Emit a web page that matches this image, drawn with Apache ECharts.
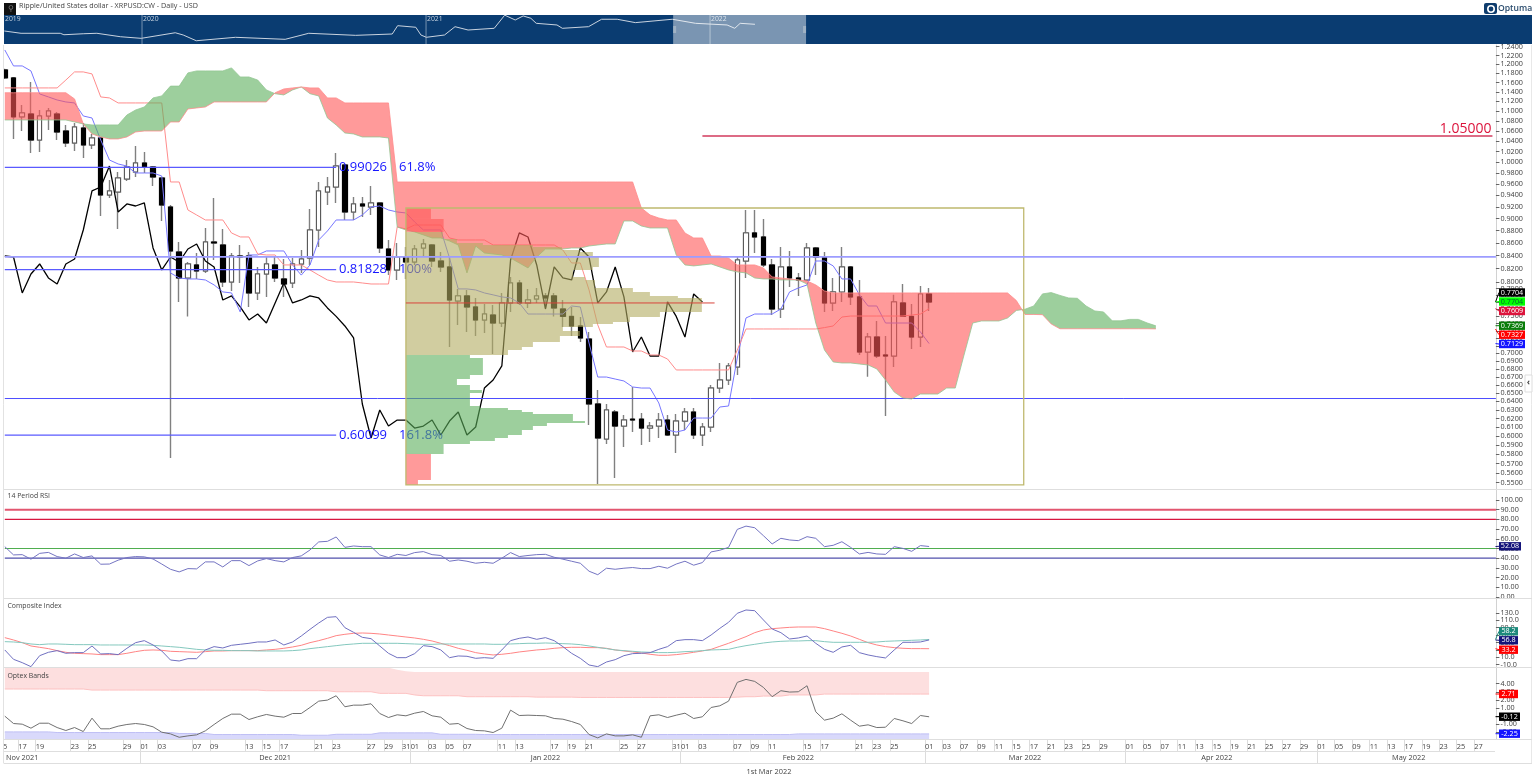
<!DOCTYPE html>
<html><head><meta charset="utf-8">
<style>html,body{margin:0;padding:0;background:#fff}#c{width:1536px;height:783px}</style>
<script src="https://cdn.jsdelivr.net/npm/echarts@6/dist/echarts.min.js"></script>
</head><body><div id="c"></div>
<script>
// ---------- data ----------
const novDays=[15,16,17,18,19,20,21,22,23,24,25,26,27,28,29,30];
const decDays=[1,2,3,4,5,6,7,8,9,10,11,12,13,14,15,16,17,18,19,20,21,22,23,24,25,26,27,28,29,30,31];
const janDays=decDays;
const febDays=[1,2,3,4,5,6,7,8,9,10,11,12,13,14,15,16,17,18,19,20,21,22,23,24,25,26,27,28];
const marDays=[1,2,3,4,7,8,9,10,11,14,15,16,17,18,21,22,23,24,25,28,29,30,31];
const aprDays=[1,4,5,6,7,8,11,12,13,14,15,18,19,20,21,22,25,26,27,28,29,30];
const mayDays=[1,4,5,6,9,10,11,12,13,16,17,18,19,20,23,24,25,26,27,30,31];
const pad=d=>(d<10?'0':'')+d;
const categories=[].concat(
  novDays.map(d=>'Nov '+pad(d)),decDays.map(d=>'Dec '+pad(d)),janDays.map(d=>'Jan '+pad(d)),
  febDays.map(d=>'Feb '+pad(d)),marDays.map(d=>'Mar '+pad(d)),aprDays.map(d=>'Apr '+pad(d)),mayDays.map(d=>'May '+pad(d)));
const dayLabelIdx=[0,2,4,8,10,14,16,18,22,24,28,30,32,36,38,42,44,46,47,49,51,53,57,59,63,65,67,71,73,77,78,80,84,86,88,92,94,98,100,102,106,108,110,112,114,116,118,120,122,124,126,129,131,133,135,137,139,141,143,145,147,149,151,153,155,157,159,161,163,165,167,169];
const monthStartIdx=[16,47,78,106,129,151];
const monthLabelIdx={2:'Nov 2021',31:'Dec 2021',62:'Jan 2022',91:'Feb 2022',117:'Mar 2022',139:'Apr 2022',161:'May 2022'};

// [open, close, low, high]
const candles=[
[1.1875,1.170,1.1675,1.190],[1.170,1.088,1.044,1.172],[1.088,1.096,1.0597,1.1123],[1.0938,1.042,1.017,1.161],[1.042,1.0898,1.019,1.102],
[1.0898,1.100,1.0617,1.106],[1.0938,1.0577,1.042,1.098],[1.0597,1.0363,1.0286,1.0716],[1.0363,1.0676,1.0209,1.0756],[1.0656,1.0325,1.0077,1.0756],
[1.0325,1.046,1.0248,1.0539],[1.046,.9405,.9044,1.048],[.9405,.9476,.9352,.9672],[.9458,.9708,.8828,.9818],[.969,.9909,.9654,1.0039],
[.9818,.9983,.9726,1.0305],[.9983,.9909,.9799,1.019],[.9909,.9726,.9565,.9927],[.9708,.9231,.896,.9726],[.9197,.8473,.576,.9231],
[.8457,.8057,.7705,.8616],[.8057,.827,.75,.8301],[.8255,.8163,.8042,.8441],[.8163,.8616,.8133,.8844],[.8616,.86,.8332,.9352],
[.8568,.7997,.7923,.8828],[.7997,.8394,.7864,.8441],[.8394,.8378,.7982,.8568],[.8394,.7835,.7633,.8457],[.7835,.8117,.7733,.8224],
[.8117,.827,.7777,.8378],[.8255,.8057,.7997,.8378],[.8042,.7967,.7777,.8347],[.7982,.827,.7908,.8362],[.827,.8347,.8133,.8488],
[.8362,.8811,.8255,.9163],[.8811,.9476,.8536,.9636],[.9458,.9546,.9231,.9726],[.9546,.9927,.9266,1.0171],[.9946,.9112,.8977,.9946],
[.9112,.9249,.8977,.937],[.9249,.9214,.9028,.937],[.9197,.9266,.9061,.9565],[.9266,.852,.8441,.9266],[.8504,.8178,.81,.8648],
[.8178,.8378,.8027,.86],[.8378,.8301,.8042,.8536],[.8301,.8504,.8255,.8568],[.852,.8584,.8378,.8664],[.8568,.8316,.8224,.8584],
[.8316,.8224,.8148,.8457],[.8224,.7733,.7084,.8378],[.7719,.7792,.7382,.7894],[.7792,.7633,.7285,.7879],[.7633,.745,.723,.7762],
[.745,.7533,.7271,.7676],[.7519,.7408,.6992,.7661],[.7408,.769,.7353,.7835],[.769,.7982,.7562,.8072],[.7982,.769,.7661,.8027],
[.769,.7733,.7619,.7894],[.7748,.7792,.769,.7908],[.7792,.7762,.7619,.7835],[.7792,.7619,.75,.7835],[.7604,.75,.7353,.7733],
[.75,.7367,.723,.7633],[.7367,.7204,.715,.7491],[.719,.637,.6126,.7285],[.637,.5978,.5487,.6538],[.5967,.6299,.5911,.637],
[.6275,.6113,.5549,.6299],[.6113,.6182,.5879,.624],[.6193,.6182,.6045,.6575],[.6193,.609,.5901,.6263],[.609,.6113,.5934,.6159],
[.6113,.6182,.5978,.6263],[.6182,.6012,.6,.624],[.6012,.617,.5814,.6252],[.617,.6275,.6068,.6322],[.6275,.6012,.5967,.6322],
[.6012,.6102,.589,.6148],[.6102,.6562,.6045,.6599],[.6562,.6661,.6501,.6876],[.6661,.6838,.6599,.6876],[.6825,.8332,.6723,.8378],
[.8316,.8763,.8057,.9146],[.8763,.8697,.8441,.9146],[.8697,.8255,.8224,.8995],[.8255,.7604,.7519,.8347],[.7604,.8224,.7477,.8536],
[.8224,.8057,.7923,.8473],[.8057,.8027,.7792,.8133],[.8027,.852,.8012,.86],[.852,.8378,.81,.8536],[.8378,.769,.7562,.8457],
[.769,.785,.7576,.8057],[.785,.8224,.7705,.8536],[.8224,.7777,.7661,.824],[.7777,.7018,.6979,.8027],[.7018,.7217,.6701,.7271],
[.7217,.6966,.694,.7436],[.6979,.6966,.6229,.723],[.6966,.7705,.6825,.7807],[.769,.75,.7491,.7967],[.75,.7217,.7058,.7676],
[.7217,.7821,.7084,.7938],[.7821,.7704,.7576,.7908]];

const tenkan=[1.2325,1.1964,1.1964,1.1853,1.1355,1.1292,1.1228,1.1187,1.1166,1.0898,1.0857,1.0421,1.0039,.9965,.9927,.9799,.9799,.9799,.9744,.8133,.8057,.8042,.8042,.8027,.7953,.785,.7835,.7562,.841,.841,.8473,.8473,.8473,.8255,.81,.8255,.8648,.8795,.8977,.8977,.8977,.9061,.9197,.9214,.9146,.9112,.9095,.8944,.8811,.8811,.8811,.8362,.7894,.7894,.7879,.7835,.7807,.7777,.7762,.769,.7533,.7533,.7533,.7533,.7533,.7647,.7633,.7137,.6698,.6698,.6673,.6649,.6575,.6562,.6562,.6382,.6068,.6045,.6068,.6205,.6205,.6205,.6334,.6346,.694,.7478,.7533,.7533,.7533,.7604,.785,.7908,.7953,.8316,.8316,.824,.8042,.8042,.7807,.7647,.7647,.7408,.7408,.7408,.7408,.7285,.7129];
const kijun=[1.1483,1.1483,1.1483,1.1483,1.1483,1.1483,1.1483,1.1653,1.1831,1.1831,1.1787,1.1292,1.1271,1.1166,1.1166,1.1166,1.1166,1.1166,1.1166,.9636,.9636,.9146,.9061,.8977,.8977,.8977,.8762,.8697,.8697,.8425,.841,.841,.8255,.8255,.8255,.8178,.81,.8027,.7997,.7997,.7997,.7982,.7967,.7967,.7967,.886,.8828,.8893,.8893,.8893,.8893,.8681,.8648,.8648,.8648,.8648,.8568,.8568,.8568,.8568,.8568,.8568,.8568,.8568,.8488,.8285,.8285,.7879,.7382,.7084,.7084,.7084,.7031,.7031,.6979,.6979,.6927,.6787,.6787,.6787,.6787,.6787,.6787,.6787,.7044,.7326,.7326,.7326,.7326,.7326,.7326,.7326,.7326,.7326,.7345,.7367,.7491,.7505,.7505,.7505,.7505,.7505,.7505,.7505,.7519,.7533,.7609];
const chikou=candles.slice(26).map(c=>c[1]); // lagging span: the closes, 26 bars back
const spanA=[1.0817,1.0817,1.0817,1.0817,1.0817,1.0817,1.0817,1.0817,1.0777,1.0737,1.0717,1.0717,1.0717,1.0717,1.0918,1.102,1.1082,1.1271,1.1313,1.1522,1.1522,1.1809,1.1853,1.1853,1.1853,1.1853,1.192,1.172,1.172,1.1653,1.144,1.136,1.1334,1.144,1.1503,1.136,1.1313,1.0857,1.0717,1.0558,1.0539,1.048,1.048,1.048,1.046,.886,.8811,.8779,.873,.8681,.8681,.8632,.8568,.8133,.8552,.8441,.8425,.841,.8362,.8285,.8209,.8378,.8504,.8504,.8504,.852,.852,.8552,.8568,.8584,.8584,.896,.896,.8877,.8844,.8844,.8844,.841,.8255,.824,.8255,.827,.8224,.8178,.8148,.8133,.8057,.8042,.8042,.8027,.8027,.8027,.7967,.7408,.7044,.6889,.6876,.6876,.6863,.685,.68,.6661,.6513,.6441,.6429,.6489,.6489,.6489,.6562,.6562,.6978,.7408,.7436,.7436,.7436,.7478,.7583,.7601,.7647,.7821,.784,.7799,.7762,.7757,.7647,.7576,.7562,.7438,.7438,.7458,.7458,.7409,.7369];
const spanB=[1.138,1.138,1.138,1.138,1.138,1.138,1.138,1.138,1.125,1.0737,1.0539,1.048,1.0441,1.0441,1.048,1.0578,1.0597,1.0597,1.0597,1.0777,1.0777,1.1041,1.1062,1.1082,1.1187,1.1187,1.1187,1.1187,1.1187,1.1187,1.1187,1.138,1.1461,1.1483,1.1503,1.1483,1.1483,1.1271,1.1271,1.1166,1.1166,1.1166,1.1166,1.1166,1.1166,.9636,.9636,.9636,.9636,.9636,.9636,.9636,.9636,.9636,.9636,.9636,.9636,.9636,.9636,.9636,.9636,.9636,.9636,.9636,.9636,.9636,.9636,.9636,.9636,.9636,.9636,.9636,.9636,.918,.9061,.901,.8977,.8977,.8762,.8681,.8681,.8394,.8394,.8362,.8255,.8255,.8255,.8209,.8072,.8057,.8042,.8027,.8012,.7953,.7864,.7835,.7835,.7835,.7835,.7835,.7835,.7835,.7835,.7835,.7835,.7835,.7835,.7835,.7835,.7835,.7835,.7835,.7835,.7835,.7835,.7835,.7725,.7527,.7527,.7524,.7395,.7329,.7329,.7329,.7329,.7329,.7329,.7329,.7329,.7329,.7329,.7329,.7327];

// volume-by-price profile: price edges of the rows, row volume (in bar widths), row colour group
const profileEdges=[.918,.8994,.8779,.8664,.86,.8568,.8536,.8488,.8457,.8378,.8224,.8178,.8072,.8027,.7908,.785,.7792,.7762,.7562,.7491,.7422,.7395,.7353,.7299,.7231,.715,.7084,.7044,.6979,.694,.6724,.6673,.6599,.6538,.6501,.6346,.6322,.6299,.6275,.6252,.6229,.617,.6148,.6113,.6068,.6012,.5978,.5945,.5912,.5803,.5528,.5477];
const profileVolumes=[2.87,4.32,4.24,5.85,8.83,14.56,17.89,19.95,21.44,22.13,21.44,19.15,20.53,21.67,26.03,27.98,31.19,33.94,29.13,25.69,23.74,21.44,18,19.95,17.66,14.56,13.3,11.7,7.34,8.83,7.34,5.85,7.34,8.72,7.34,8.49,11.7,13.3,14.56,19.15,19.15,20.53,16.17,14.56,13.3,11.7,10.2,7.34,4.32,2.87,1.38];
const profileGroups=['r','r','o','o','o','o','o','o','o','o','o','o','o','o','o','o','o','o','o','o','o','o','o','o','o','o','o','o','g','g','g','g','g','g','g','g','g','g','g','g','g','g','g','g','g','g','g','g','g','r','r'];
const profileStartBar=46, profileBoxEndBar=116.85, profileBoxTop=.918, profileBoxBottom=.5477;
const pocPrice=.769, pocEndBar=81.4;
const fibPrices=[.99026,.81828,.60099], fibNames=['0.99026','0.81828','0.60099'], fibPcts=['61.8%','100%','161.8%'];
const fullLinePrices=[.8381,.6435];
const targetPrice=1.05, targetLabel='1.05000', targetStartBar=80;

const mainTicks=[1.24,1.22,1.2,1.18,1.16,1.14,1.12,1.1,1.08,1.06,1.04,1.02,1,.98,.96,.94,.92,.9,.88,.86,.84,.82,.8,.79,.78,.77,.76,.75,.74,.73,.72,.71,.7,.69,.68,.67,.66,.65,.64,.63,.62,.61,.6,.59,.58,.57,.56,.55];
const rsiTicks=[100,90,80,70,60,50,40,30,20,10,0];
const compTicks=[130,110,90,70,50,30,10,-10];
const optexTicks=[4,3,2,1,0,-1,-2];

const rsi=[51.9,43.4,43.7,39,45,46,41.7,40,44.4,40.7,42.4,33.8,34,38,40.7,41.7,41.4,39.2,34,28.6,25.9,29.3,29,36.2,36.2,31,37.5,37.5,32.4,37.2,39.6,37.5,36.2,40.7,42.4,48.5,56.8,57.4,61.9,51.2,52.6,51.9,51.9,43.4,40.7,44,42.8,45.8,46.8,43.7,42.8,36.9,38.2,36.9,34.8,35.8,34.8,40,45.8,41.7,42.8,43.7,44,41,39,36.9,34.8,26.6,23,29.7,28.6,29.7,30.4,29.3,29.3,31.7,29.7,34,36.9,32.8,35.5,46.5,48.2,51.2,69.7,73.1,71.4,63.2,54.7,60.5,58.8,58.1,62.2,60.5,51.9,53.3,57,51.2,44.4,46,44.4,44,51.9,50.1,47.1,53,52.08];
const rsiLevels=[[90,'#e2566f',2],[80,'#d7173f',1.2],[50,'#4fae4f',1.2],[40,'#5050ac',1.2]];

const composite=[29.8,4.5,-4.5,-15.3,14.4,23.5,28,20.8,22.6,22.6,40.6,19,19.9,17.2,34.3,49.6,55,43.3,27.1,2.7,0,6.3,6.3,29.8,38.8,35.2,42.4,45.1,47.8,51.4,51.4,56.8,43.3,51.4,67.6,85.6,102.7,118,119.8,90.1,77.5,64,60.4,40.6,20.8,9,9,19.9,41.5,38.8,29.8,9,13.6,12.7,7.2,9,7.2,29.8,55,61.3,64.9,58.6,63.1,55,38.8,20.8,7.2,-10.8,-15.3,-2.7,3.6,14.4,19.9,20.8,22.6,31.5,38.8,55,57.7,57.7,55,70.3,88.3,104.6,128.9,137.9,136,110.9,86.5,76.6,59.5,62.2,67.6,47.8,31.5,23.5,37.9,42.4,22.6,16.3,11.8,8.2,29.8,50.5,50.5,51.4,56.8];
const compositeSlow=[63.1,56.8,49.6,40.6,37,33.4,28,23.5,20.8,19.9,19,17.2,17.2,17.2,20.8,25.3,28.9,29.8,28.9,26.2,25.3,24.4,23.5,25.3,27.1,27.1,28,28,28,28,29.8,31.5,34.3,37.9,42.4,49.6,55,61.3,68.5,72.1,74.8,75.7,74.8,73,70.3,67.6,64.9,62.2,58.6,54.1,47.8,41.5,34.3,28.9,22.6,19,16.3,18.1,20.8,24.4,27.1,29.8,31.5,34.3,36.1,37,37,36.1,36.1,34.3,29.8,27.1,24.4,21.7,18.1,15.4,15.4,17.2,19.9,23.5,27.1,31.5,39.7,47.8,56.8,65.8,76.6,83.8,87.4,89.2,91,91.9,91.9,91.9,87.4,81.1,74.8,67.6,58.6,49.6,43.3,38.8,36.1,34.3,33.4,33.4,33.2];
const compositeLong=[52.3,51.4,49.6,46,44.2,46,46,45.1,44.2,44.2,44.2,43.3,43.3,43.3,43.3,43.3,43.3,42.4,40.6,38.8,37,34.3,31.5,29.8,28.9,28.9,28,28,28,27.1,27.1,27.1,27.1,28,29.8,33.4,36.1,38.8,41.5,44.2,46,47.8,47.8,47.8,47.8,47.8,46.9,46,45.1,45.1,46,46,46,46,46,46,45.1,45.1,46,46.9,47.8,47.8,48.7,47.8,46.9,46,44.2,40.6,37,33.4,29.8,28,26.2,24.4,23.5,22.6,22.6,23.5,25.3,26.2,28,29.8,30.6,31.5,37,41.5,45.1,48.7,51.4,53.2,54.1,54.1,55,55,52.3,50.5,50.5,50.5,50.5,50.5,51.4,53.2,54.1,55,55.9,56.8,58.2];

const optex=[-.04,-.96,-1.04,-1.54,-.92,-.92,-1.46,-1.83,-1.46,-1.96,-.29,-1.62,-1.62,-1.29,-1.08,-.96,-1.08,-1.37,-2.04,-2.25,-2.67,-2.5,-2.37,-1.87,-1.08,-.33,.21,.21,-.46,-.12,.17,-.04,-.17,.29,.29,1.04,1.83,1.96,2.5,1.13,1.33,1.33,1.5,.29,-.21,.13,0,.33,.54,0,-.17,-1.04,-.96,-1.58,-1.83,-1.87,-2.08,-1.54,.71,.04,.08,.04,0,-.33,-.42,-.71,-1.08,-2.33,-2.75,-2.25,-2.5,-2.5,-2.37,-2.67,0,.13,-.21,.08,.33,-.33,-.12,1.04,1.25,1.83,4.17,4.54,4.29,3.54,2.38,3.13,2.96,3,3.75,.5,-.54,-.29,.25,-.54,-1.29,-1.12,-1.46,-1.42,-.33,-.62,-.96,.04,-.12];
const optexUpperHigh=[6,6,6,6,6,6,6,6,6,6,6,6,6,6,6,6,6,6,6,6,6,6,6,6,6,6,6,6,6,6,6,6,6,6,6,6,6,6,6,6,6,6,6,6,6,5.75,5.55,5.46,5.46,5.46,5.46,5.46,5.46,5.46,5.46,5.46,5.46,5.46,5.46,5.46,5.46,5.46,5.46,5.46,5.46,5.46,5.46,5.46,5.46,5.46,5.46,5.46,5.46,5.46,5.46,5.46,5.46,5.46,5.46,5.46,5.46,5.46,5.46,5.46,5.46,5.46,5.46,5.46,5.46,5.46,5.46,5.46,5.46,5.46,5.46,5.46,5.46,5.46,5.46,5.46,5.46,5.46,5.46,5.46,5.46,5.46,5.46];
const optexUpperLow=[3.34,3.34,3.34,3.34,3.34,3.34,3.34,3.34,3.34,3.34,3.21,3.21,3.21,3.21,3.21,3.21,3.21,3.21,3.21,3.21,3.21,3.21,3.21,3.21,3.21,3.21,3.21,3.21,3.21,3.21,3.13,3.13,3.13,3.13,3.13,3.13,3.13,3.13,3,3,3,3,3,2.8,2.8,2.8,2.8,2.6,2.5,2.5,2.5,2.5,2.5,2.38,2.38,2.38,2.38,2.38,2.38,2.38,2.38,2.33,2.33,2.33,2.33,2.33,2.29,2.29,2.29,2.29,2.29,2.29,2.29,2.29,2.29,2.29,2.29,2.29,2.29,2.29,2.29,2.29,2.29,2.29,2.33,2.38,2.38,2.46,2.46,2.46,2.6,2.6,2.6,2.6,2.71,2.71,2.71,2.71,2.71,2.71,2.71,2.71,2.71,2.71,2.71,2.71,2.71];
const optexLowerHigh=[-2,-2,-2,-2,-2,-2,-2.08,-2.08,-2.08,-2.08,-2.08,-2.08,-2.08,-2.08,-2.08,-2.08,-2.08,-2.08,-2.08,-2.08,-2.2,-2.2,-2.2,-2.2,-2.33,-2.33,-2.33,-2.33,-2.33,-2.33,-2.33,-2.33,-2.33,-2.33,-2.42,-2.42,-2.42,-2.42,-2.3,-2.3,-2.3,-2.3,-2.3,-2.12,-2.12,-2.12,-2.12,-2.12,-2.12,-2.12,-2.3,-2.3,-2.3,-2.3,-2.3,-2.33,-2.33,-2.33,-2.33,-2.33,-2.33,-2.33,-2.33,-2.33,-2.33,-2.33,-2.33,-2.33,-2.33,-2.33,-2.33,-2.33,-2.33,-2.33,-2.33,-2.33,-2.33,-2.33,-2.33,-2.33,-2.33,-2.33,-2.33,-2.33,-2.33,-2.33,-2.33,-2.33,-2.33,-2.33,-2.33,-2.25,-2.25,-2.25,-2.25,-2.25,-2.25,-2.25,-2.25,-2.25,-2.25,-2.25,-2.25,-2.25,-2.25,-2.25,-2.25];
const optexFloor=-2.9;

// overview strip: [decimal year, USD]
const navLine=[[2019.515,.381],[2019.574,.303],[2019.712,.303],[2019.725,.262],[2019.795,.29],[2019.841,.303],[2019.924,.215],[2019.997,.183],[2020.117,.32],[2020.145,.255],[2020.191,.144],[2020.329,.203],[2020.504,.166],[2020.587,.303],[2020.752,.247],[2020.881,.282],[2020.9,.647],[2020.964,.552],[2020.982,.255],[2021.001,.203],[2021.065,.255],[2021.102,.585],[2021.148,.42],[2021.24,.498],[2021.277,1.85],[2021.314,1.143],[2021.342,1.71],[2021.369,1.356],[2021.388,.82],[2021.461,.694],[2021.48,.498],[2021.572,.585],[2021.618,1.23],[2021.673,1.23],[2021.737,.877],[2021.867,1.23],[2021.949,.82],[2022.06,.694],[2022.087,.498],[2022.106,.82],[2022.158,.744]];
const navYears=[2020,2021,2022], navFirstLabel='2019', navSelection=[2021.87,2022.338];

// ---------- helpers ----------
const FONT='"Open Sans",sans-serif';
const barCount=categories.length;
const bodies=candles.map(c=>[c[0],c[1],Math.min(c[0],c[1]),Math.max(c[0],c[1])]);
const bars=arr=>arr.map((v,i)=>[i,v]);
const ONE=[[0,1]];

function yAxisOf(grid,ticks,min,max,dec,type){
  return {type:type||'value',gridIndex:grid,position:'right',min,max,scale:true,
    axisLine:{show:true,onZero:false,lineStyle:{color:'#d2d2d2',width:1}},
    axisTick:{show:true,length:3.5,customValues:ticks,lineStyle:{color:'#666'}},
    axisLabel:{show:true,margin:4.5,customValues:ticks,showMinLabel:true,showMaxLabel:true,hideOverlap:false,fontSize:7.2,fontFamily:FONT,color:'#3c3c3c',formatter:v=>(+v).toFixed(dec)},
    splitLine:{show:false},minorTick:{show:false},minorSplitLine:{show:false}};
}
function catAxis(grid){
  return {type:'category',gridIndex:grid,data:categories,boundaryGap:false,axisLine:{show:false},axisTick:{show:false},axisLabel:{show:false},splitLine:{show:false}};
}
function lineS(name,x,y,data,color,width,z){
  return {name,type:'line',xAxisIndex:x,yAxisIndex:y,data,showSymbol:false,symbol:'none',silent:true,z:z||3,
    lineStyle:{color,width},clip:true};
}
function hLines(x,y,levels,lastBar){
  return {type:'custom',xAxisIndex:x,yAxisIndex:y,data:[[0,levels[0][0]]],silent:true,z:2,clip:true,
    renderItem:(p,api)=>({type:'group',children:levels.map(l=>{
      const a=api.coord([0,l[0]]),b=api.coord([barCount-1,l[0]]);
      return {type:'line',shape:{x1:a[0],y1:a[1],x2:b[0],y2:b[1]},style:{stroke:l[1],lineWidth:l[2]}};
    })})};
}
function bandS(x,y,high,low,fill,z){
  return {type:'custom',xAxisIndex:x,yAxisIndex:y,data:[[0,high[0]]],silent:true,z:z||1,clip:true,
    renderItem:(p,api)=>{
      const pts=[];
      high.forEach((v,i)=>pts.push(api.coord([i,v])));
      for(let i=low.length-1;i>=0;i--)pts.push(api.coord([i,low[i]]));
      return {type:'polygon',shape:{points:pts},style:{fill}};
    }};
}
const CLOUD_RED='rgba(255,86,86,.6)',CLOUD_GREEN='rgba(92,175,92,.6)',PROFILE_OLIVE='rgba(178,172,97,.6)';

// ---------- option ----------
const tagRows=[
  ['0.7704',292.5,302,26,'#000','#fff'],['0.7704',301.5,302,26,'#00ff00','#063'],['0.7609',311,308.6,26,'#dc143c','#fff'],
  ['0.7369',325.7,325.7,26,'#0a7d0a','#fff'],['0.7327',334.7,329,26,'#ff0000','#fff'],['0.7129',344,343.6,26,'#1414ff','#fff'],
  ['52.08',546.3,546.5,22,'#14147a','#fff'],
  ['58.2',631.3,639.5,19,'#1d8a7c','#fff'],['56.8',640.3,640,19,'#14147a','#fff'],['33.2',649.7,648.7,19,'#ff0000','#fff'],
  ['2.71',694,694,19,'#ff0000','#fff'],['-0.12',716.7,716.7,21,'#000','#fff'],['-2.25',733.7,733.7,21,'#1414ff','#fff']];
const option={
  animation:false,backgroundColor:'#fff',
  grid:[
    {left:4,top:15,width:1528,height:29,show:true,backgroundColor:'#0a3c71',borderWidth:0},
    {left:4.8,top:45,width:1491.12,height:444},
    {left:4.8,top:490,width:1491.12,height:108},
    {left:4.8,top:599,width:1491.12,height:68.5},
    {left:4.8,top:668,width:1491.12,height:71.5},
    {left:.44,top:740,width:1499.84,height:12},
    {left:.44,top:752,width:1499.84,height:11}
  ],
  xAxis:[
    {type:'value',gridIndex:0,min:2019.514,max:2024.894,show:false},
    catAxis(1),
    {type:'value',gridIndex:1,min:0,max:barCount-1,show:false},
    catAxis(2),catAxis(3),catAxis(4),
    {type:'category',gridIndex:5,data:categories,boundaryGap:true,axisLine:{show:false},
      axisTick:{show:true,inside:true,length:12,interval:i=>dayLabelIdx.includes(i),lineStyle:{color:'#dcdcdc'}},
      axisLabel:{show:true,inside:true,margin:2,interval:i=>dayLabelIdx.includes(i),fontSize:7.4,fontFamily:FONT,color:'#444',
        formatter:(v,i)=>i===0?'5':v.slice(4)}},
    {type:'category',gridIndex:6,data:categories,boundaryGap:true,axisLine:{show:false},
      axisTick:{show:true,inside:true,length:11,interval:i=>monthStartIdx.includes(i),lineStyle:{color:'#dcdcdc'}},
      axisLabel:{show:true,inside:true,margin:2,interval:i=>monthLabelIdx[i]!==undefined,fontSize:7.4,fontFamily:FONT,color:'#444',
        formatter:(v,i)=>monthLabelIdx[i]||''}}
  ],
  yAxis:[
    {type:'log',gridIndex:0,min:.104,max:1.88,show:false},
    yAxisOf(1,mainTicks,.5436,1.244,4,'log'),
    yAxisOf(2,rsiTicks,-1,110.3,2),
    yAxisOf(3,compTicks,-17.6,167.6,1),
    yAxisOf(4,optexTicks,-2.95,5.96,2),
    {type:'value',gridIndex:5,show:false},
    {type:'value',gridIndex:6,show:false}
  ],
  series:[
    // overview strip
    {name:'Overview',type:'line',xAxisIndex:0,yAxisIndex:0,data:navLine,showSymbol:false,symbol:'none',z:3,silent:true,lineStyle:{color:'#c9d3df',width:1}},
    {type:'custom',xAxisIndex:0,yAxisIndex:0,data:ONE,silent:true,z:4,clip:true,
      renderItem:(p,api)=>{
        const g=p.coordSys,kids=[];
        navYears.forEach(y=>{const x=api.coord([y,1])[0];
          kids.push({type:'line',shape:{x1:x,y1:g.y,x2:x,y2:g.y+g.height},style:{stroke:'rgba(190,205,220,.6)',lineWidth:1}});
          kids.push({type:'text',style:{text:String(y),x:x+1,y:g.y+4,verticalAlign:'middle',fill:'#c6d2df',font:'6.8px '+FONT}});
        });
        kids.push({type:'text',style:{text:navFirstLabel,x:g.x+1,y:g.y+4,verticalAlign:'middle',fill:'#c6d2df',font:'6.8px '+FONT}});
        const a=api.coord([navSelection[0],1])[0],b=api.coord([navSelection[1],1])[0];
        kids.push({type:'rect',shape:{x:a,y:g.y,width:b-a,height:g.height},style:{fill:'rgba(255,255,255,.46)'}});
        [a,b-3].forEach(x=>kids.push({type:'rect',shape:{x:x,y:g.y+11,width:3,height:7},style:{fill:'rgba(170,185,200,.8)'}}));
        return {type:'group',children:kids};
      }},
    // candles: wick pass, then body pass
    {name:'Wicks',type:'candlestick',xAxisIndex:1,yAxisIndex:1,data:candles,barWidth:5,z:2,silent:true,clip:true,
      itemStyle:{color:'#fff',color0:'#000',borderColor:'#808080',borderColor0:'#808080',borderWidth:1.4}},
    {name:'XRPUSD',type:'candlestick',xAxisIndex:1,yAxisIndex:1,data:bodies,barWidth:5,z:2,silent:true,clip:true,
      itemStyle:{color:'#fff',color0:'#000',borderColor:'#5a5a5a',borderColor0:'#000',borderWidth:1}},
    lineS('Lagging',1,1,bars(chikou),'#000',1.3,3),
    lineS('Tenkan',1,1,bars(tenkan),'#7676ff',1,3),
    lineS('Kijun',1,1,bars(kijun),'#ff8c8c',1,3),
    // cloud
    {type:'custom',xAxisIndex:2,yAxisIndex:1,data:ONE,silent:true,z:5,clip:true,
      renderItem:(p,api)=>{
        const A=spanA.map((v,i)=>api.coord([i,v])),B=spanB.map((v,i)=>api.coord([i,v])),kids=[];
        let upper=[],lower=[],green=spanA[0]>spanB[0];
        const flush=()=>{kids.push({type:'polygon',shape:{points:upper.concat(lower.slice().reverse())},
          style:{fill:green?CLOUD_GREEN:CLOUD_RED}});};
        for(let i=0;i<A.length;i++){
          const g=spanA[i]>spanB[i]||(spanA[i]===spanB[i]&&green);
          if(i>0&&g!==green){
            const d0=A[i-1][1]-B[i-1][1],d1=A[i][1]-B[i][1],t=d0/(d0-d1);
            const cx=A[i-1][0]+t*(A[i][0]-A[i-1][0]),cy=A[i-1][1]+t*(A[i][1]-A[i-1][1]);
            upper.push([cx,cy]);lower.push([cx,cy]);flush();
            upper=[[cx,cy]];lower=[[cx,cy]];green=g;
          }
          upper.push(A[i]);lower.push(B[i]);
        }
        flush();
        return {type:'group',children:kids};
      }},
    lineS('Span A',1,1,bars(spanA),'#93c793',.8,5),
    lineS('Span B',1,1,bars(spanB),'#ff8c8c',.8,5),
    // volume-by-price box
    {type:'custom',xAxisIndex:2,yAxisIndex:1,data:ONE,silent:true,z:6,clip:true,
      renderItem:(p,api)=>{
        const kids=[],col={r:CLOUD_RED,o:PROFILE_OLIVE,g:CLOUD_GREEN};
        profileVolumes.forEach((v,i)=>{
          const t=api.coord([profileStartBar,profileEdges[i]]),b=api.coord([profileStartBar+v,profileEdges[i+1]]);
          kids.push({type:'rect',shape:{x:t[0],y:t[1],width:b[0]-t[0],height:b[1]-t[1]},style:{fill:col[profileGroups[i]]}});
        });
        const a=api.coord([profileStartBar,profileBoxTop]),c=api.coord([profileBoxEndBar,profileBoxBottom]);
        kids.push({type:'rect',shape:{x:a[0],y:a[1],width:c[0]-a[0],height:c[1]-a[1]},style:{fill:'none',stroke:'#bfb96f',lineWidth:1.3}});
        const m=api.coord([profileStartBar,pocPrice]),n=api.coord([pocEndBar,pocPrice]);
        kids.push({type:'line',shape:{x1:m[0],y1:m[1],x2:n[0],y2:n[1]},style:{stroke:'#d8443c',lineWidth:1}});
        return {type:'group',children:kids};
      }},
    // fibonacci levels
    {type:'custom',xAxisIndex:2,yAxisIndex:1,data:ONE,silent:true,z:4,clip:true,
      renderItem:(p,api)=>{
        const kids=[];
        fibPrices.forEach((v,i)=>{
          const a=api.coord([0,v]),b=api.coord([38,v]);
          kids.push({type:'line',shape:{x1:a[0],y1:a[1],x2:b[0],y2:b[1]},style:{stroke:'#5a5aff',lineWidth:1.1}});
          kids.push({type:'text',style:{text:fibNames[i],x:339,y:b[1],verticalAlign:'middle',fill:'#1616ff',font:'13px '+FONT}});
          kids.push({type:'text',style:{text:fibPcts[i],x:399,y:b[1],verticalAlign:'middle',fill:'#1616ff',font:'13px '+FONT}});
        });
        const l=api.coord([0,fullLinePrices[1]]),r=api.coord([barCount-1,fullLinePrices[1]]);
        kids.push({type:'line',shape:{x1:l[0],y1:l[1],x2:r[0],y2:r[1]},style:{stroke:'#4d4dff',lineWidth:1}});
        return {type:'group',children:kids};
      }},
    {type:'custom',xAxisIndex:2,yAxisIndex:1,data:ONE,silent:true,z:8,clip:true,
      renderItem:(p,api)=>{
        const l=api.coord([0,fullLinePrices[0]]),r=api.coord([barCount-1,fullLinePrices[0]]);
        const a=api.coord([targetStartBar,targetPrice]),b=api.coord([170.6,targetPrice]);
        return {type:'group',children:[
          {type:'line',shape:{x1:l[0],y1:l[1],x2:r[0],y2:r[1]},style:{stroke:'#9c9cff',lineWidth:1.8}},
          {type:'line',shape:{x1:a[0],y1:a[1],x2:b[0],y2:b[1]},style:{stroke:'#d23a5c',lineWidth:1.4}},
          {type:'text',style:{text:targetLabel,x:b[0]-1,y:b[1],align:'right',verticalAlign:'bottom',fill:'#dc143c',font:'14px '+FONT}}
        ]};
      }},
    // RSI
    hLines(3,2,rsiLevels),
    lineS('RSI',3,2,bars(rsi),'#7474c2',1,3),
    // Composite
    lineS('Composite slow',4,3,bars(compositeSlow),'#ff8484',1,3),
    lineS('Composite long',4,3,bars(compositeLong),'#84c8be',1,3),
    lineS('Composite',4,3,bars(composite),'#7070c0',1,4),
    // Optex
    bandS(5,4,optexUpperHigh,optexUpperLow,'#fddfdf',1),
    bandS(5,4,optexLowerHigh,optexLowerHigh.map(()=>optexFloor),'#d9d9fb',1),
    lineS('Upper band',5,4,bars(optexUpperLow),'#fdc2c2',1,2),
    lineS('Lower band',5,4,bars(optexLowerHigh),'#bfbff5',1,2),
    lineS('Optex',5,4,bars(optex),'#707070',1,3)
  ],
  graphic:{elements:[
    // chrome: header, separators, covers
    {type:'rect',z:100,shape:{x:0,y:45,width:3.5,height:720},style:{fill:'#fff'}},
    {type:'rect',z:100,shape:{x:1495.4,y:740,width:40,height:24},style:{fill:'#fff'}},
    {type:'line',z:101,shape:{x1:3.5,y1:45,x2:3.5,y2:763.5},style:{stroke:'#e2e2e2',lineWidth:1}},
    {type:'line',z:101,shape:{x1:1531.5,y1:45,x2:1531.5,y2:763.5},style:{stroke:'#e8e8e8',lineWidth:1}},
    ...[489.5,598.5,667.5].map(y=>({type:'line',z:101,shape:{x1:4,y1:y,x2:1532,y2:y},style:{stroke:'#dedede',lineWidth:1}})),
    {type:'line',z:101,shape:{x1:4,y1:739.5,x2:1532,y2:739.5},style:{stroke:'#dedede',lineWidth:1}},
    {type:'line',z:101,shape:{x1:4,y1:751.5,x2:1495,y2:751.5},style:{stroke:'#dedede',lineWidth:1}},
    {type:'line',z:101,shape:{x1:4,y1:763.5,x2:1532,y2:763.5},style:{stroke:'#dedede',lineWidth:1}},
    {type:'rect',z:101,shape:{x:4,y:3,width:12,height:12},style:{fill:'#111'}},
    {type:'text',z:102,style:{text:'⚲',x:7.5,y:4.5,fill:'#777',font:'8px sans-serif'}},
    {type:'text',z:102,style:{text:'Ripple/United States dollar - XRPUSD:CW - Daily - USD',x:19,y:5.5,verticalAlign:'middle',fill:'#444',font:'7.2px '+FONT}},
    {type:'rect',z:102,shape:{x:1484,y:3,width:13,height:11,r:2},style:{fill:'#0f3d6e'}},
    {type:'circle',z:103,shape:{cx:1491,cy:9,r:3.2},style:{fill:'none',stroke:'#fff',lineWidth:1.6}},
    {type:'text',z:102,style:{text:'Optuma',x:1498,y:8.5,verticalAlign:'middle',fill:'#284a6c',font:'600 8.6px '+FONT}},
    {type:'text',z:102,style:{text:'14 Period RSI',x:7.5,y:496.5,verticalAlign:'middle',fill:'#444',font:'6.9px '+FONT}},
    {type:'text',z:102,style:{text:'Composite Index',x:7.5,y:606.5,verticalAlign:'middle',fill:'#444',font:'6.9px '+FONT}},
    {type:'text',z:102,style:{text:'Optex Bands',x:7.5,y:676.5,verticalAlign:'middle',fill:'#444',font:'6.9px '+FONT}},
    {type:'text',z:102,style:{text:'1st Mar 2022',x:769,y:771.5,align:'center',verticalAlign:'middle',fill:'#444',font:'7.4px '+FONT}},
    {type:'rect',z:102,shape:{x:1525,y:375,width:7,height:17},style:{fill:'#fff',stroke:'#ddd',lineWidth:1}},
    {type:'text',z:103,style:{text:'‹',x:1528.5,y:382.5,align:'center',verticalAlign:'middle',fill:'#444',font:'bold 9px '+FONT}},
    // value tags
    ...tagRows.flatMap(t=>[
      {type:'line',z:104,shape:{x1:1495.5,y1:t[2],x2:1499,y2:t[1]},style:{stroke:t[4],lineWidth:1}},
      {type:'rect',z:105,shape:{x:1499,y:t[1]-4.2,width:t[3],height:8.4},style:{fill:t[4]}},
      {type:'text',z:106,style:{text:t[0],x:1499+t[3]/2,y:t[1],align:'center',verticalAlign:'middle',fill:t[5],font:'7.2px '+FONT}}
    ])
  ]}
};
const chart=echarts.init(document.getElementById('c'),null,{renderer:'canvas',width:1536,height:783});
chart.setOption(option);
</script></body></html>
